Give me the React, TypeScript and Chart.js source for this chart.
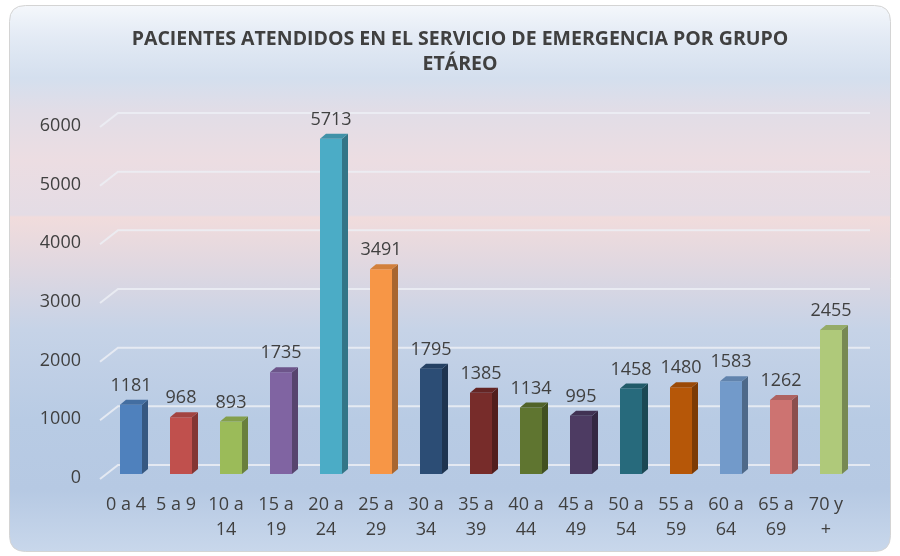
import React, { useEffect, useRef } from "react";
import { Chart, registerables } from "chart.js";

Chart.register(...registerables);

const TITLE_LINES = [
  "PACIENTES ATENDIDOS EN EL SERVICIO DE EMERGENCIA POR GRUPO",
  "ETÁREO",
];

const CATEGORIES: string[][] = [
  ["0 a 4"],
  ["5 a 9"],
  ["10 a", "14"],
  ["15 a", "19"],
  ["20 a", "24"],
  ["25 a", "29"],
  ["30 a", "34"],
  ["35 a", "39"],
  ["40 a", "44"],
  ["45 a", "49"],
  ["50 a", "54"],
  ["55 a", "59"],
  ["60 a", "64"],
  ["65 a", "69"],
  ["70 y", "+"],
];

const PATIENTS = [1181, 968, 893, 1735, 5713, 3491, 1795, 1385, 1134, 995, 1458, 1480, 1583, 1262, 2455];

const BAR_COLORS = [
  "#4F81BD",
  "#C0504D",
  "#9BBB59",
  "#8064A2",
  "#4BACC6",
  "#F79646",
  "#2C4D75",
  "#772C2A",
  "#5F7530",
  "#4D3B62",
  "#276A7C",
  "#B65708",
  "#729ACA",
  "#CD7371",
  "#AFC97A",
];

const Y_MIN = 0;
const Y_MAX = 6000;
const Y_STEP = 1000;

const FONT = "'Open Sans', 'DejaVu Sans', sans-serif";
const TEXT_COLOR = "#404040";

function shade(hex: string, f: number): string {
  const n = parseInt(hex.slice(1), 16);
  const r = Math.round(((n >> 16) & 255) * f);
  const g = Math.round(((n >> 8) & 255) * f);
  const b = Math.round((n & 255) * f);
  return `rgb(${Math.min(255, r)},${Math.min(255, g)},${Math.min(255, b)})`;
}

function roundRect(ctx: CanvasRenderingContext2D, x: number, y: number, w: number, h: number, r: number) {
  ctx.beginPath();
  ctx.moveTo(x + r, y);
  ctx.lineTo(x + w - r, y);
  ctx.quadraticCurveTo(x + w, y, x + w, y + r);
  ctx.lineTo(x + w, y + h - r);
  ctx.quadraticCurveTo(x + w, y + h, x + w - r, y + h);
  ctx.lineTo(x + r, y + h);
  ctx.quadraticCurveTo(x, y + h, x, y + h - r);
  ctx.lineTo(x, y + r);
  ctx.quadraticCurveTo(x, y, x + r, y);
  ctx.closePath();
}

const backgroundPlugin = {
  id: "bgPanel",
  beforeDraw(chart: any) {
    const ctx: CanvasRenderingContext2D = chart.ctx;
    const W = chart.width;
    const H = chart.height;
    ctx.save();
    ctx.fillStyle = "#ffffff";
    ctx.fillRect(0, 0, W, H);
    const x0 = 9.5, y0 = 5.5, w = 881, h = 546;
    const g = ctx.createLinearGradient(0, y0, 0, y0 + h);
    const s = (y: number) => Math.max(0, Math.min(1, (y - y0) / h));
    g.addColorStop(s(5), "#f4f7fb");
    g.addColorStop(s(35), "#e4ebf5");
    g.addColorStop(s(78), "#d4dfee");
    g.addColorStop(s(110), "#e1dde7");
    g.addColorStop(s(160), "#ecdde2");
    g.addColorStop(s(215), "#e4dce5");
    g.addColorStop(s(217), "#f1dcdc");
    g.addColorStop(s(260), "#e2d8e0");
    g.addColorStop(s(330), "#c6d3e7");
    g.addColorStop(s(420), "#b8cbe4");
    g.addColorStop(s(490), "#b6c9e3");
    g.addColorStop(s(551), "#c8d7eb");
    roundRect(ctx, x0, y0, w, h, 16);
    ctx.fillStyle = g;
    ctx.fill();
    ctx.strokeStyle = "#d4d4d4";
    ctx.lineWidth = 1;
    ctx.stroke();

    // title
    ctx.fillStyle = TEXT_COLOR;
    ctx.font = `bold 19.5px ${FONT}`;
    ctx.textAlign = "center";
    ctx.textBaseline = "middle";
    ctx.fillText(TITLE_LINES[0], 460, 39);
    ctx.fillText(TITLE_LINES[1], 460, 64);
    ctx.restore();
  },
  beforeDatasetsDraw(chart: any) {
    const ctx: CanvasRenderingContext2D = chart.ctx;
    const ys = chart.scales.y;
    const area = chart.chartArea;
    ctx.save();
    ctx.strokeStyle = "rgba(236,238,244,0.85)";
    ctx.lineWidth = 2;
    for (let v = Y_MIN; v <= Y_MAX; v += Y_STEP) {
      const y = ys.getPixelForValue(v);
      ctx.beginPath();
      ctx.moveTo(area.left - 6, y + 5);
      ctx.lineTo(area.left + 12, y - 9);
      ctx.lineTo(area.right + 14, y - 9);
      ctx.stroke();
    }
    ctx.restore();
  },
  afterDatasetsDraw(chart: any) {
    const ctx: CanvasRenderingContext2D = chart.ctx;
    const meta = chart.getDatasetMeta(0);
    const dx = 6, dy = 5;
    ctx.save();
    meta.data.forEach((bar: any, i: number) => {
      const { x, y, base, width } = bar.getProps(["x", "y", "base", "width"], true);
      const l = x - width / 2;
      const r = x + width / 2;
      const c = BAR_COLORS[i];
      // side face
      ctx.fillStyle = shade(c, 0.68);
      ctx.beginPath();
      ctx.moveTo(r, base);
      ctx.lineTo(r, y);
      ctx.lineTo(r + dx, y - dy);
      ctx.lineTo(r + dx, base - dy);
      ctx.closePath();
      ctx.fill();
      // top face
      ctx.fillStyle = shade(c, 0.85);
      ctx.beginPath();
      ctx.moveTo(l, y);
      ctx.lineTo(r, y);
      ctx.lineTo(r + dx, y - dy);
      ctx.lineTo(l + dx, y - dy);
      ctx.closePath();
      ctx.fill();
      // value label
      ctx.fillStyle = TEXT_COLOR;
      ctx.font = `18px ${FONT}`;
      ctx.textAlign = "center";
      ctx.textBaseline = "middle";
      ctx.fillText(String(PATIENTS[i]), x, y - 19);
    });
    ctx.restore();
  },
};

export default function App() {
  const canvasRef = useRef<HTMLCanvasElement | null>(null);

  useEffect(() => {
    const canvas = canvasRef.current;
    if (!canvas) return;
    const chart = new Chart(canvas, {
      type: "bar",
      data: {
        labels: CATEGORIES,
        datasets: [
          {
            data: PATIENTS,
            backgroundColor: BAR_COLORS,
            borderWidth: 0,
            categoryPercentage: 1,
            barPercentage: 0.44,
          },
        ],
      },
      options: {
        animation: false,
        responsive: false,
        devicePixelRatio: 1,
        layout: { padding: { top: 122, left: 10, right: 44, bottom: 0 } },
        plugins: {
          legend: { display: false },
          title: { display: false },
          tooltip: { enabled: false },
        },
        scales: {
          x: {
            grid: { display: false, drawTicks: false },
            border: { display: false },
            ticks: {
              color: TEXT_COLOR,
              font: { family: FONT, size: 18, lineHeight: 1.39 },
              padding: 18,
              labelOffset: -5,
              maxRotation: 0,
              autoSkip: false,
            },
            afterFit: (s: any) => {
              s.height = 82;
            },
          },
          y: {
            min: Y_MIN,
            max: Y_MAX,
            grid: { display: false, drawTicks: false },
            border: { display: false },
            ticks: {
              stepSize: Y_STEP,
              color: TEXT_COLOR,
              font: { family: FONT, size: 18 },
              padding: 25,
              labelOffset: 4,
              callback: (v: any) => String(v),
            },
            afterFit: (s: any) => {
              s.width = 96;
            },
          },
        },
      },
      plugins: [backgroundPlugin],
    });
    return () => chart.destroy();
  }, []);

  return (
    <div style={{ position: "absolute", left: 0, top: 0, width: 900, height: 556 }}>
      <canvas ref={canvasRef} width={900} height={556} style={{ display: "block" }} />
    </div>
  );
}
